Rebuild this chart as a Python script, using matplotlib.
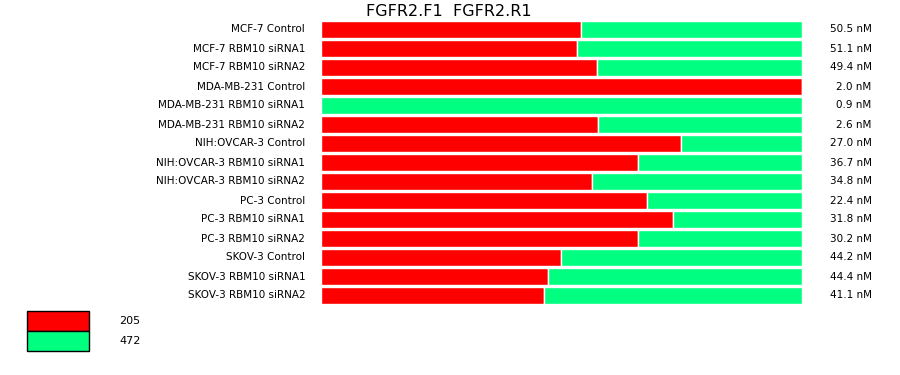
import matplotlib.pyplot as plt
from matplotlib.patches import Rectangle

samples = ['MCF-7 Control', 'MCF-7 RBM10 siRNA1', 'MCF-7 RBM10 siRNA2',
           'MDA-MB-231 Control', 'MDA-MB-231 RBM10 siRNA1', 'MDA-MB-231 RBM10 siRNA2',
           'NIH:OVCAR-3 Control', 'NIH:OVCAR-3 RBM10 siRNA1', 'NIH:OVCAR-3 RBM10 siRNA2',
           'PC-3 Control', 'PC-3 RBM10 siRNA1', 'PC-3 RBM10 siRNA2',
           'SKOV-3 Control', 'SKOV-3 RBM10 siRNA1', 'SKOV-3 RBM10 siRNA2']
# share of the 205 product (percent), the rest is 472
pct_205 = [54.1, 53.2, 57.4, 100.0, 0.0, 57.6, 74.8, 65.9, 56.3,
           67.8, 73.2, 65.9, 49.9, 47.2, 46.4]
totals = ['50.5 nM', '51.1 nM', '49.4 nM', '2.0 nM', '0.9 nM', '2.6 nM',
          '27.0 nM', '36.7 nM', '34.8 nM', '22.4 nM', '31.8 nM', '30.2 nM',
          '44.2 nM', '44.4 nM', '41.1 nM']
legend_labels = ['205', '472']
colors = ['#ff0000', '#00ff80']

W, H = 900, 375
fig = plt.figure(figsize=(W / 100, H / 100), dpi=100)

# axes in pixel layout: bars from x=321..802, y=20..305
ax = fig.add_axes([321 / W, 1 - 305 / H, 481 / W, 285 / H])
n = len(samples)
ypos = list(range(n))
pct_472 = [100 - p for p in pct_205]
ax.barh(ypos, pct_205, height=0.9, color=colors[0], edgecolor='white', linewidth=1.0)
ax.barh(ypos, pct_472, left=pct_205, height=0.9, color=colors[1], edgecolor='white', linewidth=1.0)
ax.set_xlim(0, 100)
ax.set_ylim(n - 0.5, -0.5)
ax.axis('off')

for i in ypos:
    ax.text(-3.3, i, samples[i], ha='right', va='center', fontsize=7.5, color='black')
    ax.text(114.5, i, totals[i], ha='right', va='center', fontsize=7.5, color='black')

fig.text(449 / W, 1 - 11 / H, 'FGFR2.F1  FGFR2.R1', ha='center', va='center',
         fontsize=11.5, color='black')

# legend boxes
for k, (lab, col) in enumerate(zip(legend_labels, colors)):
    y0 = 311 + k * 20
    fig.patches.append(Rectangle((27 / W, 1 - (y0 + 20) / H), 62 / W, 20 / H,
                                 transform=fig.transFigure, facecolor=col,
                                 edgecolor='black', linewidth=1.0))
    fig.text(119 / W, 1 - (y0 + 10) / H, lab, ha='left', va='center', fontsize=8)

plt.savefig('out.png', dpi=100, facecolor='white')
